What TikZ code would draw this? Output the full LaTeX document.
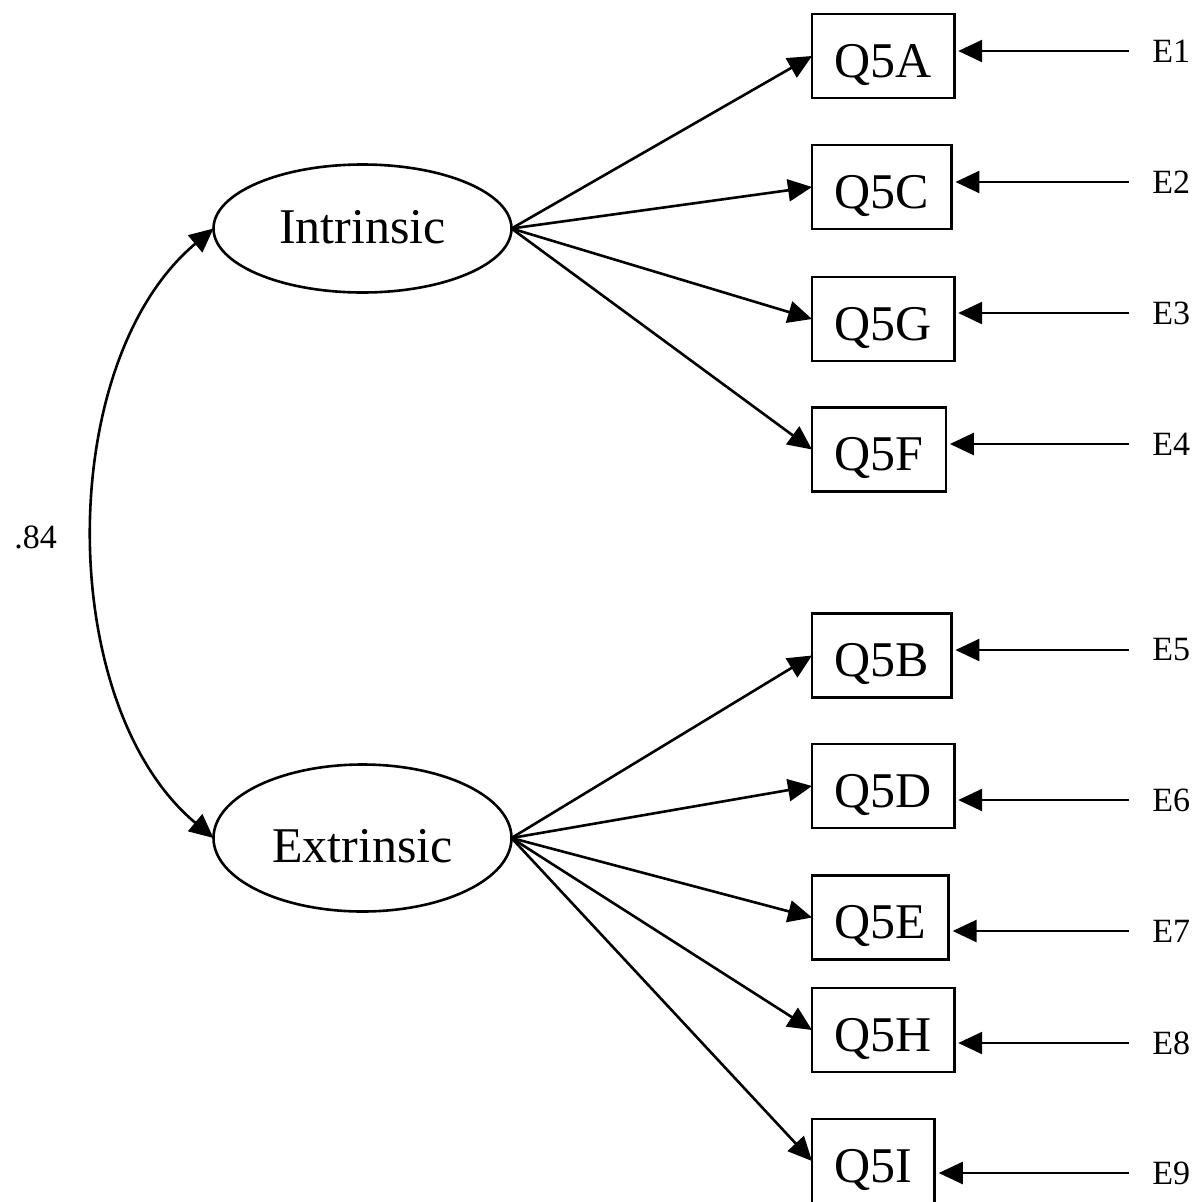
\documentclass[tikz,border=0pt]{standalone}
\usepackage{fontspec}
\setmainfont{Liberation Serif}
\usetikzlibrary{shapes.geometric,arrows.meta}
\begin{document}
\begin{tikzpicture}[x=1pt,y=-1pt,line width=2.6pt,
  obs/.style={draw, rectangle, anchor=west, font=\fontsize{50}{60}\selectfont,
    minimum height=84pt, inner xsep=22.5pt, inner ysep=0pt, text height=42pt, text depth=0pt, outer sep=0pt},
  lat/.style={draw, ellipse, font=\fontsize{50}{60}\selectfont, minimum width=298pt,
    inner sep=0pt, outer sep=0pt, text depth=0pt},
  err/.style={anchor=west, inner sep=0pt, font=\fontsize{34}{40}\selectfont},
  tip/.style={-{Triangle[length=24pt,width=22pt]}},
  bitip/.style={{Triangle[length=24pt,width=22pt]}-{Triangle[length=24pt,width=22pt]}}
]
\useasboundingbox (0,0) rectangle (1198,1202);

% latent variables
\node[lat, minimum height=128pt, text height=30pt] (I) at (362.5,228.5) {Intrinsic};
\node[lat, minimum height=147pt, text height=48pt] (X) at (362.5,838) {Extrinsic};

% observed variables
\node[obs] (A) at (812,56) {Q5A};
\node[obs] (C) at (812,187) {Q5C};
\node[obs] (G) at (812,319) {Q5G};
\node[obs] (F) at (812,449.5) {Q5F};
\node[obs] (B) at (812,655.5) {Q5B};
\node[obs] (D) at (812,786) {Q5D};
\node[obs] (E) at (812,917.5) {Q5E};
\node[obs] (H) at (812,1030) {Q5H};
\node[obs] (Iq) at (812,1161) {Q5I};

% error labels
\node[err] (e1) at (1151,51) {E1};
\node[err] (e2) at (1151,182) {E2};
\node[err] (e3) at (1151,313) {E3};
\node[err] (e4) at (1151,444) {E4};
\node[err] (e5) at (1151,650) {E5};
\node[err] (e6) at (1151,800) {E6};
\node[err] (e7) at (1151,931) {E7};
\node[err] (e8) at (1151,1043) {E8};
\node[err] (e9) at (1151,1173) {E9};

% correlation label
\node[err] (r) at (13,537) {.84};

% loadings
\foreach \t in {A,C,G,F} \draw[tip] (I.east) -- (\t.west);
\foreach \t in {B,D,E,H,Iq} \draw[tip] (X.east) -- (\t.west);

% error arrows
\foreach \e/\t in {e1/A,e2/C,e3/G,e4/F,e5/B,e6/D,e7/E,e8/H,e9/Iq}
  \draw[tip, shorten >=4pt] ([xshift=-22pt]\e.west) -- (\t.east |- \e.west);

% correlation
\draw[bitip] (I.west) .. controls +(-159,133) and +(-159,-133) .. (X.west);
\end{tikzpicture}
\end{document}
